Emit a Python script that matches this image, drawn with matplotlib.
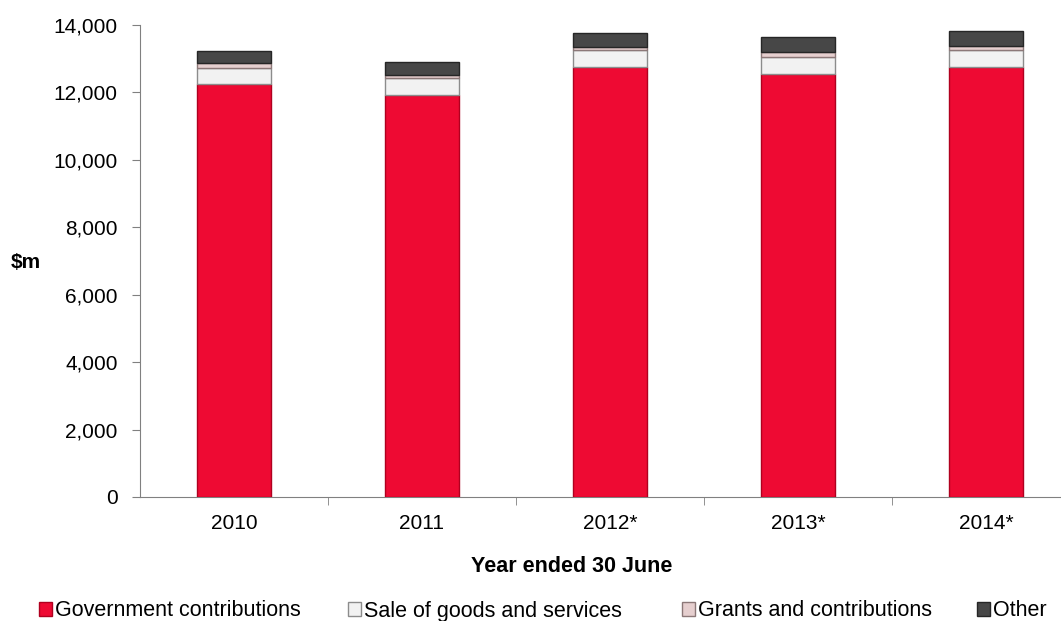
import matplotlib.pyplot as plt
import numpy as np
from matplotlib.ticker import FuncFormatter, FixedLocator

plt.rcParams['font.family'] = ['Liberation Sans', 'DejaVu Sans']

YEARS = ["2010", "2011", "2012*", "2013*", "2014*"]
GOV_CONTRIB = [12250, 11925, 12765, 12550, 12745]
SALE_GOODS = [480, 515, 495, 495, 515]
GRANTS = [150, 80, 100, 165, 120]
OTHER = [340, 395, 415, 445, 455]

SERIES = [
    ("Government contributions", GOV_CONTRIB, "#EE0A33", "#B0001F"),
    ("Sale of goods and services", SALE_GOODS, "#F2F2F2", "#8C8C8C"),
    ("Grants and contributions", GRANTS, "#E6CFCF", "#8C7878"),
    ("Other", OTHER, "#474747", "#262626"),
]
# left edge of each legend entry, in pixels
LEGEND_X = [39, 348, 682, 977]

fig = plt.figure(figsize=(10.61, 6.21), dpi=100)
ax = fig.add_axes([140 / 1061, 1 - 497 / 621, 940 / 1061, 472 / 621])

x = np.arange(len(YEARS))
bottom = np.zeros(len(YEARS))
handles = []
for name, vals, color, edge in SERIES:
    bars = ax.bar(x, vals, width=0.39, bottom=bottom, color=color, edgecolor=edge,
                  linewidth=1.0, label=name, zorder=3)
    handles.append(bars)
    bottom += np.array(vals)

ax.set_xlim(-0.5, len(YEARS) - 0.5)
ax.set_ylim(0, 14000)
ax.set_yticks(np.arange(0, 14001, 2000))
ax.yaxis.set_major_formatter(FuncFormatter(lambda v, p: f"{v:,.0f}"))
ax.set_xticks(x)
ax.set_xticklabels(YEARS)
ax.xaxis.set_minor_locator(FixedLocator(np.arange(0.5, len(YEARS) - 1, 1.0)))

ax.tick_params(axis="y", labelsize=15, length=6, pad=10, color="#808080")
ax.tick_params(axis="x", which="major", labelsize=15, length=0, pad=12)
ax.tick_params(axis="x", which="minor", length=6, color="#808080")

for side in ["top", "right"]:
    ax.spines[side].set_visible(False)
for side in ["left", "bottom"]:
    ax.spines[side].set_color("#808080")

fig.text(26 / 1061, 1 - 262 / 621, "$m", fontsize=15, fontweight="bold",
         ha="center", va="center")
fig.text(572 / 1061, 1 - 566 / 621, "Year ended 30 June", fontsize=15.5,
         fontweight="bold", ha="center", va="center")

for h, (name, *_), lx in zip(handles, SERIES, LEGEND_X):
    fig.legend([h], [name], loc="center left",
               bbox_to_anchor=(lx / 1061, 1 - 611 / 621),
               frameon=False, fontsize=15.5, handlelength=0.6, handleheight=0.6,
               handletextpad=0.15, borderaxespad=0, borderpad=0)

fig.savefig("out.png", dpi=100)
